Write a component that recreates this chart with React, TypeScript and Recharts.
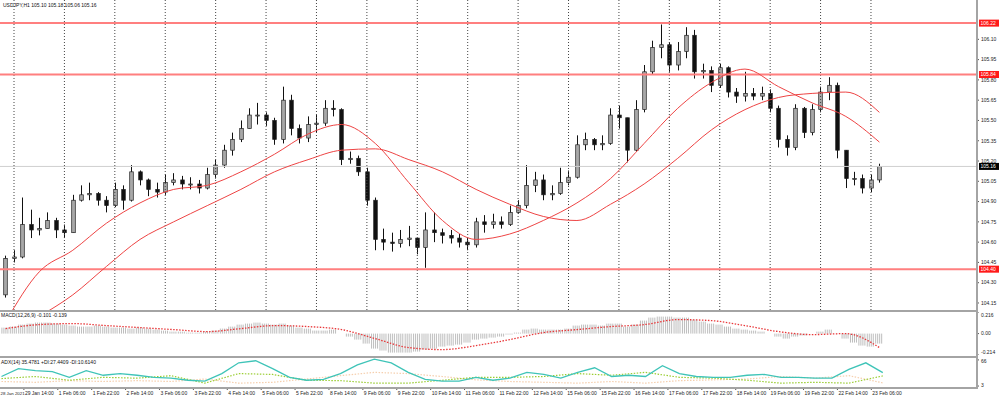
import { ComposedChart, Bar, Line, XAxis, YAxis, ReferenceLine } from "recharts";

// USDJPY H1 screenshot, redrawn with 4-hour candles
const firstOpen = 104.21;
const close = [
  104.48, 104.49, 104.73, 104.69, 104.7, 104.76, 104.69, 104.67, 104.91, 104.95,
  104.96, 104.91, 104.87, 104.99, 104.91, 105.12, 105.06, 104.99, 104.97, 105.04,
  105.06, 105.03, 105.03, 105.0, 105.1, 105.17, 105.28, 105.36, 105.44, 105.54,
  105.54, 105.5, 105.36, 105.65, 105.44, 105.37, 105.47, 105.48, 105.59, 105.58,
  105.21, 105.22, 105.12, 104.91, 104.62, 104.6, 104.59, 104.62, 104.63, 104.56,
  104.69, 104.67, 104.65, 104.63, 104.6, 104.58, 104.75, 104.73, 104.75, 104.73,
  104.82, 104.87, 105.02, 105.06, 104.95, 104.96, 105.04, 105.08, 105.32, 105.36,
  105.32, 105.33, 105.54, 105.52, 105.28, 105.58, 105.86, 106.04, 106.06, 105.91,
  106.01, 106.13, 105.86, 105.87, 105.76, 105.89, 105.71, 105.68, 105.7, 105.68,
  105.7, 105.59, 105.36, 105.3, 105.59, 105.41, 105.58, 105.71, 105.76, 105.28,
  105.07, 105.07, 105.0, 105.06, 105.16,
];
const high = [
  104.5, 104.54, 104.93, 104.84, 104.78, 104.82, 104.78, 104.73, 104.95, 105.02,
  105.04, 104.97, 104.94, 105.04, 105.02, 105.17, 105.13, 105.07, 105.04, 105.1,
  105.11, 105.09, 105.08, 105.06, 105.15, 105.21, 105.32, 105.41, 105.5, 105.59,
  105.63, 105.56, 105.52, 105.75, 105.69, 105.47, 105.53, 105.54, 105.65, 105.65,
  105.59, 105.27, 105.24, 105.15, 104.93, 104.7, 104.67, 104.69, 104.72, 104.63,
  104.82, 104.82, 104.7, 104.69, 104.66, 104.63, 104.78, 104.8, 104.81, 104.79,
  104.87, 104.91, 105.17, 105.12, 105.1, 105.02, 105.15, 105.13, 105.39, 105.41,
  105.37, 105.39, 105.59, 105.61, 105.52, 105.65, 105.91, 106.09, 106.21, 106.08,
  106.08, 106.19, 106.17, 105.92, 105.9, 105.92, 105.9, 105.74, 105.86, 105.74,
  105.75, 105.73, 105.61, 105.39, 105.62, 105.6, 105.62, 105.75, 105.82, 105.78,
  105.28, 105.12, 105.1, 105.1, 105.18,
];
const low = [
  104.19, 104.45, 104.48, 104.63, 104.65, 104.7, 104.63, 104.63, 104.67, 104.9,
  104.91, 104.87, 104.82, 104.86, 104.84, 104.9, 105.02, 104.94, 104.93, 104.95,
  105.02, 104.99, 104.99, 104.96, 104.99, 105.07, 105.15, 105.24, 105.34, 105.44,
  105.47, 105.46, 105.32, 105.33, 105.39, 105.33, 105.34, 105.41, 105.46, 105.53,
  105.17, 105.18, 105.09, 104.87, 104.54, 104.54, 104.53, 104.56, 104.57, 104.51,
  104.41, 104.6, 104.59, 104.59, 104.56, 104.54, 104.56, 104.67, 104.7, 104.7,
  104.72, 104.81, 104.85, 104.97, 104.91, 104.91, 104.95, 105.02, 105.07, 105.28,
  105.28, 105.28, 105.32, 105.44, 105.19, 105.27, 105.56, 105.84, 105.96, 105.86,
  105.87, 105.96, 105.81, 105.81, 105.71, 105.74, 105.67, 105.63, 105.64, 105.65,
  105.65, 105.56, 105.3, 105.24, 105.28, 105.37, 105.39, 105.56, 105.65, 105.22,
  105.0, 105.02, 104.96, 104.97, 105.04,
];

// moving averages, one value every 4th candle
const maFast = [
  104.01, 104.38, 104.54, 104.74, 104.89, 104.99, 105.02, 105.12, 105.25, 105.4,
  105.47, 105.33, 105.04, 104.76, 104.62, 104.66, 104.76, 104.89, 105.07, 105.33,
  105.59, 105.78, 105.88, 105.75, 105.63, 105.53, 105.34,
];
const maSlow = [
  103.91, 104.05, 104.21, 104.42, 104.62, 104.75, 104.87, 104.99, 105.12, 105.21,
  105.28, 105.29, 105.21, 105.12, 104.99, 104.88, 104.79, 104.76, 104.88, 105.03,
  105.22, 105.43, 105.58, 105.67, 105.7, 105.71, 105.56,
];

// MACD(12,26,9): histogram per candle, signal every 4th candle
const macdHist = [
  0.06, 0.07, 0.09, 0.1, 0.11, 0.11, 0.1, 0.09, 0.08, 0.07,
  0.07, 0.08, 0.07, 0.06, 0.06, 0.05, 0.06, 0.05, 0.04, 0.03,
  0.02, 0.02, 0.01, 0.01, 0.02, 0.03, 0.05, 0.07, 0.09, 0.1,
  0.11, 0.1, 0.09, 0.1, 0.08, 0.06, 0.05, 0.03, 0.03, 0.04,
  0.0, -0.03, -0.06, -0.1, -0.15, -0.17, -0.19, -0.19, -0.19, -0.18,
  -0.16, -0.15, -0.13, -0.12, -0.11, -0.09, -0.06, -0.05, -0.04, -0.03,
  -0.01, 0.01, 0.04, 0.05, 0.04, 0.04, 0.04, 0.05, 0.08, 0.09,
  0.09, 0.08, 0.1, 0.1, 0.07, 0.09, 0.13, 0.16, 0.17, 0.17,
  0.16, 0.16, 0.14, 0.12, 0.1, 0.09, 0.07, 0.05, 0.04, 0.03,
  0.02, 0.0, -0.03, -0.05, -0.03, -0.02, 0.0, 0.02, 0.04, 0.0,
  -0.05, -0.09, -0.12, -0.13, -0.1,
];
const macdSignal = [
  0.05, 0.09, 0.1, 0.08, 0.06, 0.04, 0.02, 0.05, 0.08, 0.07,
  0.04, -0.05, -0.14, -0.16, -0.12, -0.06, 0.01, 0.04, 0.07, 0.09,
  0.14, 0.13, 0.08, 0.02, -0.01, 0.0, -0.139,
];

// ADX(14): main line every 2nd candle, +DI / -DI every 4th candle
const adx = [
  26, 45, 40, 38, 24, 40, 29, 33, 29, 24,
  22, 17, 15, 33, 59, 64, 45, 24, 17, 19,
  33, 54, 68, 59, 36, 19, 15, 15, 24, 17,
  22, 36, 31, 22, 36, 47, 26, 29, 26, 52,
  33, 26, 24, 24, 29, 31, 24, 24, 22, 22,
  43, 59, 35.5,
];
const plusDi = [
  21, 26, 17, 24, 22, 28, 10, 33, 31, 17,
  16, 10, 10, 17, 24, 24, 26, 33, 29, 36,
  24, 22, 17, 10, 12, 10, 27.4,
];
const minusDi = [
  14, 12, 16, 14, 16, 14, 20, 10, 12, 20,
  28, 36, 33, 26, 18, 14, 12, 10, 14, 10,
  16, 18, 20, 26, 22, 28, 10.6,
];

const priceTicks = [104.15, 104.3, 104.45, 104.6, 104.75, 104.9, 105.05, 105.2, 105.35, 105.5, 105.65, 105.8, 105.95, 106.1];
const levels = [106.22, 105.84, 104.4];
const levelText = ["106.22", "105.84", "104.40"];
const bid = 105.16;

const timeLabels = [
  "28 Jan 2021", "29 Jan 14:00", "1 Feb 06:00", "1 Feb 22:00", "2 Feb 14:00", "3 Feb 06:00",
  "3 Feb 22:00", "4 Feb 14:00", "5 Feb 06:00", "5 Feb 22:00", "8 Feb 14:00", "9 Feb 06:00",
  "9 Feb 22:00", "10 Feb 14:00", "11 Feb 06:00", "11 Feb 22:00", "12 Feb 14:00", "15 Feb 06:00",
  "15 Feb 22:00", "16 Feb 14:00", "17 Feb 06:00", "17 Feb 22:00", "18 Feb 14:00", "19 Feb 06:00",
  "19 Feb 22:00", "22 Feb 14:00", "23 Feb 06:00",
];

const FONT = "'Liberation Sans', Arial, sans-serif";
const PAD_L = 1;
const PAD_R = 11;
const SHIFT = 7; // charts start 7px left of the page so the first label slot sits off-screen
const W = 1007;
const AXIS_W = 24;

const rows = Array.from({ length: PAD_L + close.length + PAD_R }, (_, k) => {
  const i = k - PAD_L;
  const r: any = { k };
  if (i >= 0 && i < close.length) {
    r.o = i === 0 ? firstOpen : close[i - 1];
    r.c = close[i];
    r.h = high[i];
    r.l = low[i];
    r.range = [low[i], high[i]];
    r.hist = macdHist[i];
    if (i % 4 === 0) {
      r.fast = maFast[i / 4];
      r.slow = maSlow[i / 4];
      r.sig = macdSignal[i / 4];
      r.pdi = plusDi[i / 4];
      r.mdi = minusDi[i / 4];
    }
    if (i % 2 === 0) r.adx = adx[i / 2];
  }
  return r;
});

// daily grid at 06:00, x labels every 16 hours
const gridKeys = Array.from({ length: 18 }, (_, j) => 2 + 6 * j);
const labelKeys = timeLabels.map((_, j) => j * 4);

const Candle = (props: any) => {
  const { x, y, width, height, payload } = props;
  if (!payload || payload.o == null) return null;
  const { o, c, h, l } = payload;
  const top = Math.min(y, y + height);
  const hh = Math.abs(height);
  const per = hh / (h - l || 1);
  const cx = Math.round(x + width / 2) + 0.5;
  const bTop = top + (h - Math.max(o, c)) * per;
  const bBot = top + (h - Math.min(o, c)) * per;
  const bw = 3.6;
  const up = c >= o;
  return (
    <g>
      <line x1={cx} x2={cx} y1={top} y2={top + hh} stroke="#111" strokeWidth={1} />
      <rect
        x={cx - bw / 2}
        y={bTop}
        width={bw}
        height={Math.max(bBot - bTop, 1)}
        fill={up ? "#a8a8a8" : "#111"}
        stroke="#222"
        strokeWidth={0.7}
      />
    </g>
  );
};

const HistBar = (props: any) => {
  const { x, y, width, height } = props;
  if (height == null || isNaN(y)) return null;
  const top = Math.min(y, y + height);
  const hh = Math.abs(height);
  const lines = [];
  for (let px = x + 0.5; px < x + width; px += 2) {
    lines.push(<line key={px} x1={px} x2={px} y1={top} y2={top + hh} stroke="#bdbdbd" strokeWidth={1} />);
  }
  return <g>{lines}</g>;
};

const RightTick = (props: any) => {
  const { x, y, payload, fmt, shift } = props;
  const dy = shift ? shift(payload.value) : 0;
  return (
    <g>
      <line x1={x - 4} x2={x - 2} y1={y} y2={y} stroke="#555" />
      <text x={x} y={y + dy} dy={1.8} fontSize={5} fill="#222" fontFamily={FONT}>
        {fmt(payload.value)}
      </text>
    </g>
  );
};

const TimeTick = (props: any) => {
  const { x, y, payload } = props;
  const txt = timeLabels[payload.value / 4];
  // the first label would start off-screen: pin it to the left edge, a bit smaller
  const first = payload.value === 0;
  const tx = first ? SHIFT + 0.5 : x - 2;
  return (
    <g>
      {!first && <line x1={x - 3} x2={x - 3} y1={y} y2={y + 3} stroke="#555" />}
      <text x={tx} y={y + 8} fontSize={first ? 4.4 : 5} fill="#222" fontFamily={FONT}>
        {txt}
      </text>
    </g>
  );
};

const PriceBox = (props: any) => {
  const { viewBox, text, bg } = props;
  if (!viewBox) return null;
  const bx = viewBox.x + viewBox.width + 3;
  const by = viewBox.y;
  return (
    <g>
      <rect x={bx} y={by - 3.5} width={20} height={7} fill={bg} />
      <text x={bx + 1.5} y={by} dy={1.8} fontSize={5} fill="#fff" fontFamily={FONT}>
        {text}
      </text>
    </g>
  );
};

const margin = { top: 0, right: 0, bottom: 0, left: 0 };

export default function App() {
  return (
    <div style={{ position: "absolute", left: 0, top: 0, width: 1000, height: 399, overflow: "hidden", background: "#fff" }}>
      <div style={{ position: "absolute", left: -SHIFT, top: 0 }}>
        <ComposedChart width={W} height={310} data={rows} margin={margin} barCategoryGap={0} barGap={0}>
          <XAxis dataKey="k" hide />
          <YAxis
            orientation="right"
            width={AXIS_W}
            domain={[104.098, 106.391]}
            allowDataOverflow
            ticks={priceTicks}
            interval={0}
            axisLine={false}
            tickLine={false}
            tickSize={0}
            tickMargin={5}
            tick={<RightTick fmt={(v: number) => v.toFixed(2)} />}
          />
          {gridKeys.map((g) => (
            <ReferenceLine key={g} x={g} stroke="#444" strokeDasharray="1 2" strokeWidth={1} />
          ))}
          <ReferenceLine y={bid} stroke="#cfcfcf" strokeWidth={1} label={(p: any) => <PriceBox {...p} text={bid.toFixed(2)} bg="#000" />} />
          {levels.map((lv, j) => (
            <ReferenceLine
              key={lv}
              y={lv}
              stroke="#ff7f7f"
              strokeWidth={2}
              label={(p: any) => <PriceBox {...p} text={levelText[j]} bg="#ff1a1a" />}
            />
          ))}
          <Bar dataKey="range" shape={<Candle />} isAnimationActive={false} />
          <Line dataKey="fast" type="monotone" connectNulls dot={false} stroke="#ee4444" strokeWidth={1} isAnimationActive={false} />
          <Line dataKey="slow" type="monotone" connectNulls dot={false} stroke="#ee4444" strokeWidth={1} isAnimationActive={false} />
        </ComposedChart>
      </div>

      <div style={{ position: "absolute", left: -SHIFT, top: 312 }}>
        <ComposedChart width={W} height={43} data={rows} margin={margin} barCategoryGap={0} barGap={0}>
          <XAxis dataKey="k" hide />
          <YAxis
            orientation="right"
            width={AXIS_W}
            domain={[-0.214, 0.216]}
            allowDataOverflow
            ticks={[0.216, 0, -0.214]}
            interval={0}
            axisLine={false}
            tickLine={false}
            tickSize={0}
            tickMargin={5}
            tick={
              <RightTick
                fmt={(v: number) => (v === 0 ? "0.00" : v.toFixed(3))}
                shift={(v: number) => (v > 0 ? 3 : v < 0 ? -3 : 0)}
              />
            }
          />
          <Bar dataKey="hist" shape={<HistBar />} isAnimationActive={false} />
          <Line dataKey="sig" type="monotone" connectNulls dot={false} stroke="#e8383a" strokeWidth={1.3} strokeDasharray="1.5 1.5" isAnimationActive={false} />
        </ComposedChart>
      </div>

      <div style={{ position: "absolute", left: -SHIFT, top: 358 }}>
        <ComposedChart width={W} height={41} data={rows} margin={margin}>
          <XAxis
            dataKey="k"
            height={12}
            ticks={labelKeys}
            interval={0}
            axisLine={false}
            tickLine={false}
            tickSize={0}
            tickMargin={0}
            tick={<TimeTick />}
          />
          <YAxis
            orientation="right"
            width={AXIS_W}
            domain={[0.7, 70.6]}
            allowDataOverflow
            ticks={[66, 3]}
            interval={0}
            axisLine={false}
            tickLine={false}
            tickSize={0}
            tickMargin={5}
            tick={<RightTick fmt={(v: number) => String(v)} shift={(v: number) => (v > 30 ? 1 : -1)} />}
          />
          <Line dataKey="mdi" type="linear" connectNulls dot={false} stroke="#f5cfae" strokeWidth={1.2} strokeDasharray="1.5 1.5" isAnimationActive={false} />
          <Line dataKey="pdi" type="linear" connectNulls dot={false} stroke="#9acd32" strokeWidth={1.2} strokeDasharray="1.5 1.5" isAnimationActive={false} />
          <Line dataKey="adx" type="linear" connectNulls dot={false} stroke="#3fc4b8" strokeWidth={1.3} isAnimationActive={false} />
        </ComposedChart>
      </div>

      {/* window frames */}
      <div style={{ position: "absolute", left: 0, top: 310, width: 978, height: 2, background: "#a4a4a4" }} />
      <div style={{ position: "absolute", left: 0, top: 356, width: 978, height: 2, background: "#a4a4a4" }} />
      <div style={{ position: "absolute", left: 0, top: 387, width: 978, height: 1.5, background: "#a4a4a4" }} />
      <div style={{ position: "absolute", left: 976, top: 0, width: 2, height: 388, background: "#a4a4a4" }} />

      <svg width={1000} height={399} style={{ position: "absolute", left: 0, top: 0, pointerEvents: "none" }}>
        <text x={3} y={7} fontSize={5} fill="#111" fontFamily={FONT}>
          USDJPY,H1  105.10 105.18 105.06 105.16
        </text>
        <text x={1} y={317} fontSize={5} fill="#111" fontFamily={FONT}>
          MACD(12,26,9) -0.101 -0.139
        </text>
        <text x={1} y={364} fontSize={5} fill="#111" fontFamily={FONT}>
          ADX(14) 35.4781 +DI:27.4409 -DI:10.6140
        </text>
      </svg>
    </div>
  );
}
